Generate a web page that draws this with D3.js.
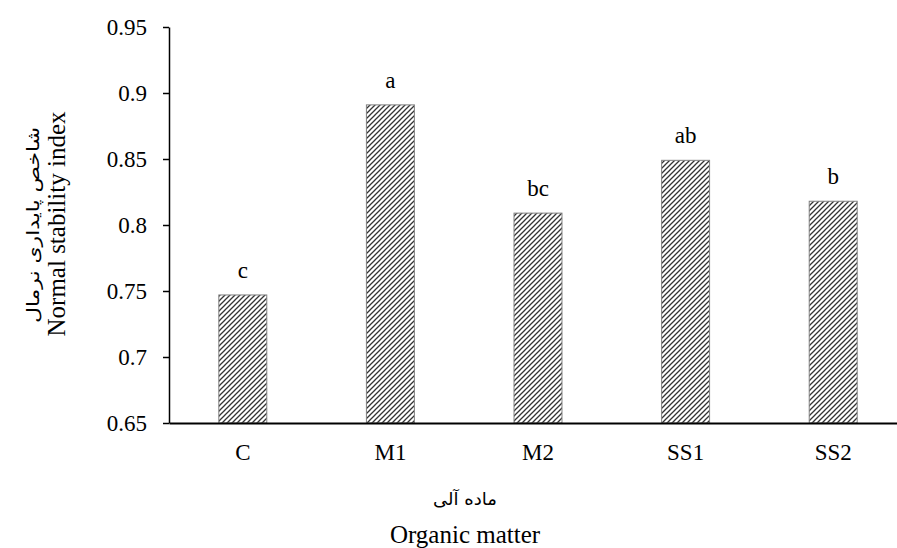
<!DOCTYPE html>
<html>
<head>
<meta charset="utf-8">
<script src="https://cdn.jsdelivr.net/npm/d3@7"></script>
<style>
  body { margin: 0; background: #fff; }
  svg { display: block; }
  text { font-family: "Liberation Serif", "Times New Roman", serif; fill: #000; }
  .fa { font-family: "DejaVu Sans", sans-serif; }
</style>
</head>
<body>
<div id="chart"></div>
<script>
const categories = ['C', 'M1', 'M2', 'SS1', 'SS2'];
const values = [0.747, 0.891, 0.809, 0.849, 0.818];
const letters = ['c', 'a', 'bc', 'ab', 'b'];
const yTicks = [0.65, 0.7, 0.75, 0.8, 0.85, 0.9, 0.95];

const width = 897;
const height = 548;
const plot = { left: 169, right: 907, top: 27, bottom: 423 };

const svg = d3.select('#chart')
  .append('svg')
  .attr('width', width)
  .attr('height', height);

// wide upward diagonal hatch
const pat = svg.append('defs')
  .append('pattern')
  .attr('id', 'hatch')
  .attr('patternUnits', 'userSpaceOnUse')
  .attr('width', 5)
  .attr('height', 5);
pat.append('rect').attr('width', 5).attr('height', 5).attr('fill', '#fff');
pat.append('path')
  .attr('d', 'M-1,6 L6,-1 M-1,1 L1,-1 M4,6 L6,4')
  .attr('stroke', '#333')
  .attr('stroke-width', 1.3);

const x = d3.scaleBand()
  .domain(categories)
  .range([plot.left, plot.right])
  .paddingInner(0.675)
  .paddingOuter(0.3375);

const y = d3.scaleLinear()
  .domain([0.65, 0.95])
  .range([plot.bottom, plot.top]);

const data = categories.map((c, i) => ({ cat: c, value: values[i], letter: letters[i] }));

svg.append('g')
  .selectAll('rect')
  .data(data)
  .enter()
  .append('rect')
  .attr('x', d => x(d.cat))
  .attr('y', d => y(d.value))
  .attr('width', x.bandwidth())
  .attr('height', d => y(0.65) - y(d.value))
  .attr('fill', 'url(#hatch)')
  .attr('stroke', '#808080')
  .attr('stroke-width', 1);

svg.append('g')
  .selectAll('text')
  .data(data)
  .enter()
  .append('text')
  .attr('x', d => x(d.cat) + x.bandwidth() / 2)
  .attr('y', d => y(d.value) - 17)
  .attr('text-anchor', 'middle')
  .attr('font-size', 23)
  .text(d => d.letter);

// y axis
const yAxis = svg.append('g')
  .attr('transform', `translate(${plot.left},0)`)
  .call(d3.axisLeft(y).tickValues(yTicks).tickSize(6).tickSizeOuter(0).tickPadding(16)
    .tickFormat(d => String(+d.toFixed(2))));
yAxis.selectAll('text').attr('font-size', 23).style('font-family', '"Liberation Serif", serif');
yAxis.selectAll('line').attr('stroke', '#000').attr('stroke-width', 1.5);
yAxis.select('.domain').attr('stroke', '#000').attr('stroke-width', 1.5);

// x axis
const xAxis = svg.append('g')
  .attr('transform', `translate(0,${plot.bottom})`)
  .call(d3.axisBottom(x).tickSize(0).tickSizeOuter(0).tickPadding(21));
xAxis.selectAll('text').attr('font-size', 23).style('font-family', '"Liberation Serif", serif');
xAxis.select('.domain').attr('stroke', '#000').attr('stroke-width', 2);

// axis titles
svg.append('text')
  .attr('class', 'fa')
  .attr('x', 465)
  .attr('y', 505)
  .attr('text-anchor', 'middle')
  .attr('font-size', 17)
  .attr('direction', 'rtl')
  .attr('textLength', 64)
  .attr('lengthAdjust', 'spacingAndGlyphs')
  .text('ماده آلی');

svg.append('text')
  .attr('x', 465)
  .attr('y', 543)
  .attr('text-anchor', 'middle')
  .attr('font-size', 25)
  .text('Organic matter');

svg.append('text')
  .attr('transform', 'translate(65,224) rotate(-90)')
  .attr('text-anchor', 'middle')
  .attr('font-size', 25)
  .text('Normal stability index');

svg.append('text')
  .attr('class', 'fa')
  .attr('transform', 'translate(39,225) rotate(-90)')
  .attr('text-anchor', 'middle')
  .attr('font-size', 17)
  .attr('direction', 'rtl')
  .attr('textLength', 196)
  .attr('lengthAdjust', 'spacingAndGlyphs')
  .text('شاخص پایداری نرمال');
</script>
</body>
</html>
